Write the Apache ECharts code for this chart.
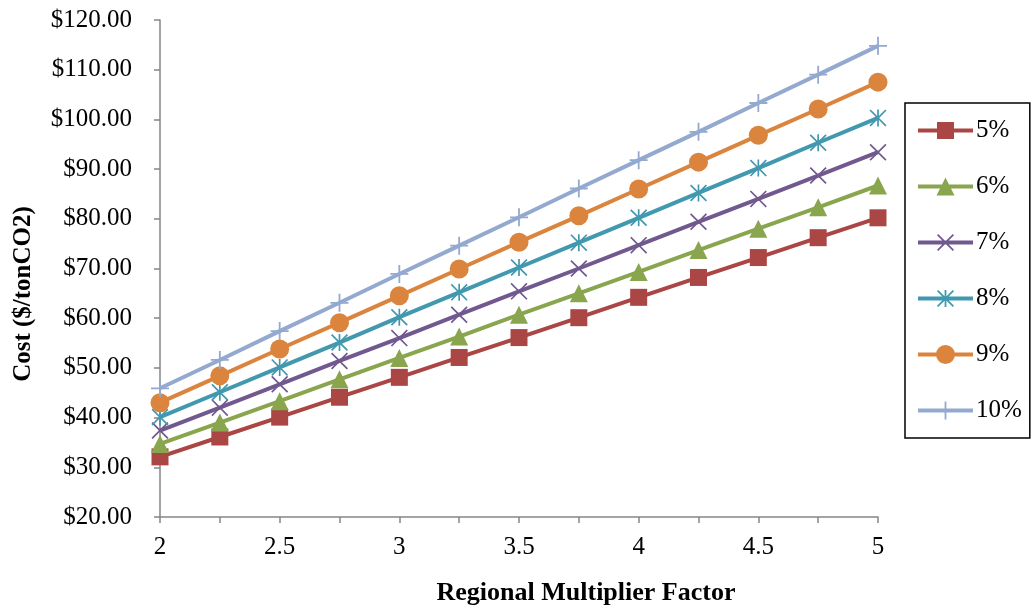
<!DOCTYPE html>
<html>
<head>
<meta charset="utf-8">
<script src="https://cdn.jsdelivr.net/npm/echarts@6/dist/echarts.min.js"></script>
<style>
  html, body { margin: 0; padding: 0; background: #fff; }
  #chart { width: 1034px; height: 611px; }
</style>
</head>
<body>
<div id="chart"></div>
<script>
// Regional multiplier factor (x) and cost per ton CO2 for each discount rate
const factors = [2, 2.25, 2.5, 2.75, 3, 3.25, 3.5, 3.75, 4, 4.25, 4.5, 4.75, 5];
const rate5  = [32.1, 36.1, 40.1, 44.1, 48.1, 52.1, 56.1, 60.1, 64.2, 68.2, 72.2, 76.2, 80.2];
const rate6  = [34.7, 39.0, 43.3, 47.7, 52.0, 56.3, 60.7, 65.0, 69.3, 73.7, 78.0, 82.3, 86.7];
const rate7  = [37.4, 42.0, 46.7, 51.4, 56.0, 60.7, 65.4, 70.0, 74.7, 79.4, 84.0, 88.7, 93.4];
const rate8  = [40.1, 45.1, 50.1, 55.1, 60.2, 65.2, 70.2, 75.2, 80.2, 85.2, 90.2, 95.3, 100.3];
const rate9  = [43.0, 48.4, 53.8, 59.1, 64.5, 69.9, 75.3, 80.6, 86.0, 91.4, 96.8, 102.1, 107.5];
const rate10 = [45.9, 51.6, 57.4, 63.1, 68.9, 74.6, 80.3, 86.1, 91.8, 97.5, 103.3, 109.0, 114.8];
const seriesNames = ['5%', '6%', '7%', '8%', '9%', '10%'];
const yTicks = { min: 20, max: 120, step: 10 };

const colors = ['#AA4643', '#89A54E', '#71588F', '#4198AF', '#DB843D', '#93A9CF'];
const FONT = '"Liberation Serif", "Times New Roman", serif';

// ---- marker shape builders (filled outlines, all wound clockwise) ----
function rectPath(x0, y0, x1, y1) {
  return `M${x0},${y0} L${x1},${y0} L${x1},${y1} L${x0},${y1} Z`;
}
function crossShape(cx, cy, h, t) {
  const p = [
    [cx - h, cy - h + t], [cx - h + t, cy - h], [cx, cy - t], [cx + h - t, cy - h],
    [cx + h, cy - h + t], [cx + t, cy], [cx + h, cy + h - t], [cx + h - t, cy + h],
    [cx, cy + t], [cx - h + t, cy + h], [cx - h, cy + h - t], [cx - t, cy]
  ];
  return 'M' + p.map(q => q[0] + ',' + q[1]).join(' L') + ' Z';
}
function starShape(cx, cy, h, t, v) {
  return crossShape(cx, cy, h, t) + ' ' + rectPath(cx - v, cy - h, cx + v, cy + h);
}
function plusShape(cx, cy, h, v) {
  return rectPath(cx - v, cy - h, cx + v, cy + h) + ' ' + rectPath(cx - h, cy - v, cx + h, cy + v);
}
function circleShape(cx, cy, r) {
  return `M${cx - r},${cy} A${r},${r} 0 1,1 ${cx + r},${cy} A${r},${r} 0 1,1 ${cx - r},${cy} Z`;
}

// chart markers (20-unit boxes, scaled by symbolSize)
const crossPath = 'path://' + crossShape(10, 10, 10, 1.4);
const starPath = 'path://' + starShape(10, 10, 10, 1.4, 1.0);
const plusPath = 'path://' + plusShape(10, 10, 10, 1.0);

const symbols = [
  { symbol: 'rect', size: 17 },
  { symbol: 'triangle', size: 18 },
  { symbol: crossPath, size: 17 },
  { symbol: starPath, size: 17 },
  { symbol: 'circle', size: 19 },
  { symbol: plusPath, size: 18 }
];

// legend icons: a thick line segment with the marker in its middle
const LW = 55, CX = 27.5, CY = 12;
const bar = rectPath(0, CY - 2, LW, CY + 2);
const legendIcons = [
  bar + ' ' + rectPath(CX - 8.5, CY - 8.5, CX + 8.5, CY + 8.5),
  bar + ' ' + `M${CX},${CY - 9} L${CX + 9},${CY + 9} L${CX - 9},${CY + 9} Z`,
  bar + ' ' + crossShape(CX, CY, 8.5, 1.2),
  bar + ' ' + starShape(CX, CY, 8.5, 1.2, 0.9),
  bar + ' ' + circleShape(CX, CY, 9.5),
  bar + ' ' + plusShape(CX, CY, 9, 0.9)
].map(p => 'path://' + p);

const values = [rate5, rate6, rate7, rate8, rate9, rate10];

const series = values.map((vals, i) => ({
  name: seriesNames[i],
  type: 'line',
  data: factors.map((x, j) => [x, vals[j]]),
  symbol: symbols[i].symbol,
  symbolSize: symbols[i].size,
  showAllSymbol: true,
  lineStyle: { width: 4, color: colors[i] },
  itemStyle: { color: colors[i], borderWidth: 0 },
  emphasis: { disabled: true },
  animation: false,
  z: 2 + i
}));

const chart = echarts.init(document.getElementById('chart'), null, { renderer: 'canvas' });
chart.setOption({
  animation: false,
  color: colors,
  grid: { left: 160, right: 156, top: 20, bottom: 94, containLabel: false },
  xAxis: {
    type: 'value',
    min: 2, max: 5, interval: 0.25,
    axisLine: { show: true, lineStyle: { color: '#868686', width: 1.5 } },
    axisTick: { show: true, length: 6, lineStyle: { color: '#868686', width: 1.5 } },
    splitLine: { show: false },
    axisLabel: {
      margin: 18,
      fontFamily: FONT, fontSize: 25, color: '#000',
      formatter: v => (Math.abs(v * 2 - Math.round(v * 2)) < 1e-9 ? String(v) : '')
    }
  },
  yAxis: {
    type: 'value',
    min: yTicks.min, max: yTicks.max, interval: yTicks.step,
    axisLine: { show: true, lineStyle: { color: '#868686', width: 1.5 } },
    axisTick: { show: true, length: 6, lineStyle: { color: '#868686', width: 1.5 } },
    splitLine: { show: false },
    axisLabel: {
      margin: 28,
      fontFamily: FONT, fontSize: 25, color: '#000',
      formatter: v => '$' + v.toFixed(2)
    }
  },
  legend: {
    orient: 'vertical',
    left: 905, top: 103,
    padding: [15, 8, 15, 13],
    itemWidth: LW, itemHeight: 24, itemGap: 31,
    borderColor: '#000', borderWidth: 1.5,
    textStyle: { fontFamily: FONT, fontSize: 25, color: '#000', padding: [0, 0, 0, -2] },
    data: seriesNames.map((name, i) => ({ name: name, icon: legendIcons[i] }))
  },
  graphic: [
    {
      type: 'text',
      x: 586, y: 593,
      style: { text: 'Regional Multiplier Factor', font: 'bold 26px ' + FONT, fill: '#000', align: 'center', verticalAlign: 'middle' }
    },
    {
      type: 'text',
      x: 24, y: 294, rotation: Math.PI / 2,
      style: { text: 'Cost ($/tonCO2)', font: 'bold 25px ' + FONT, fill: '#000', align: 'center', verticalAlign: 'middle' }
    }
  ],
  series: series
});
</script>
</body>
</html>
